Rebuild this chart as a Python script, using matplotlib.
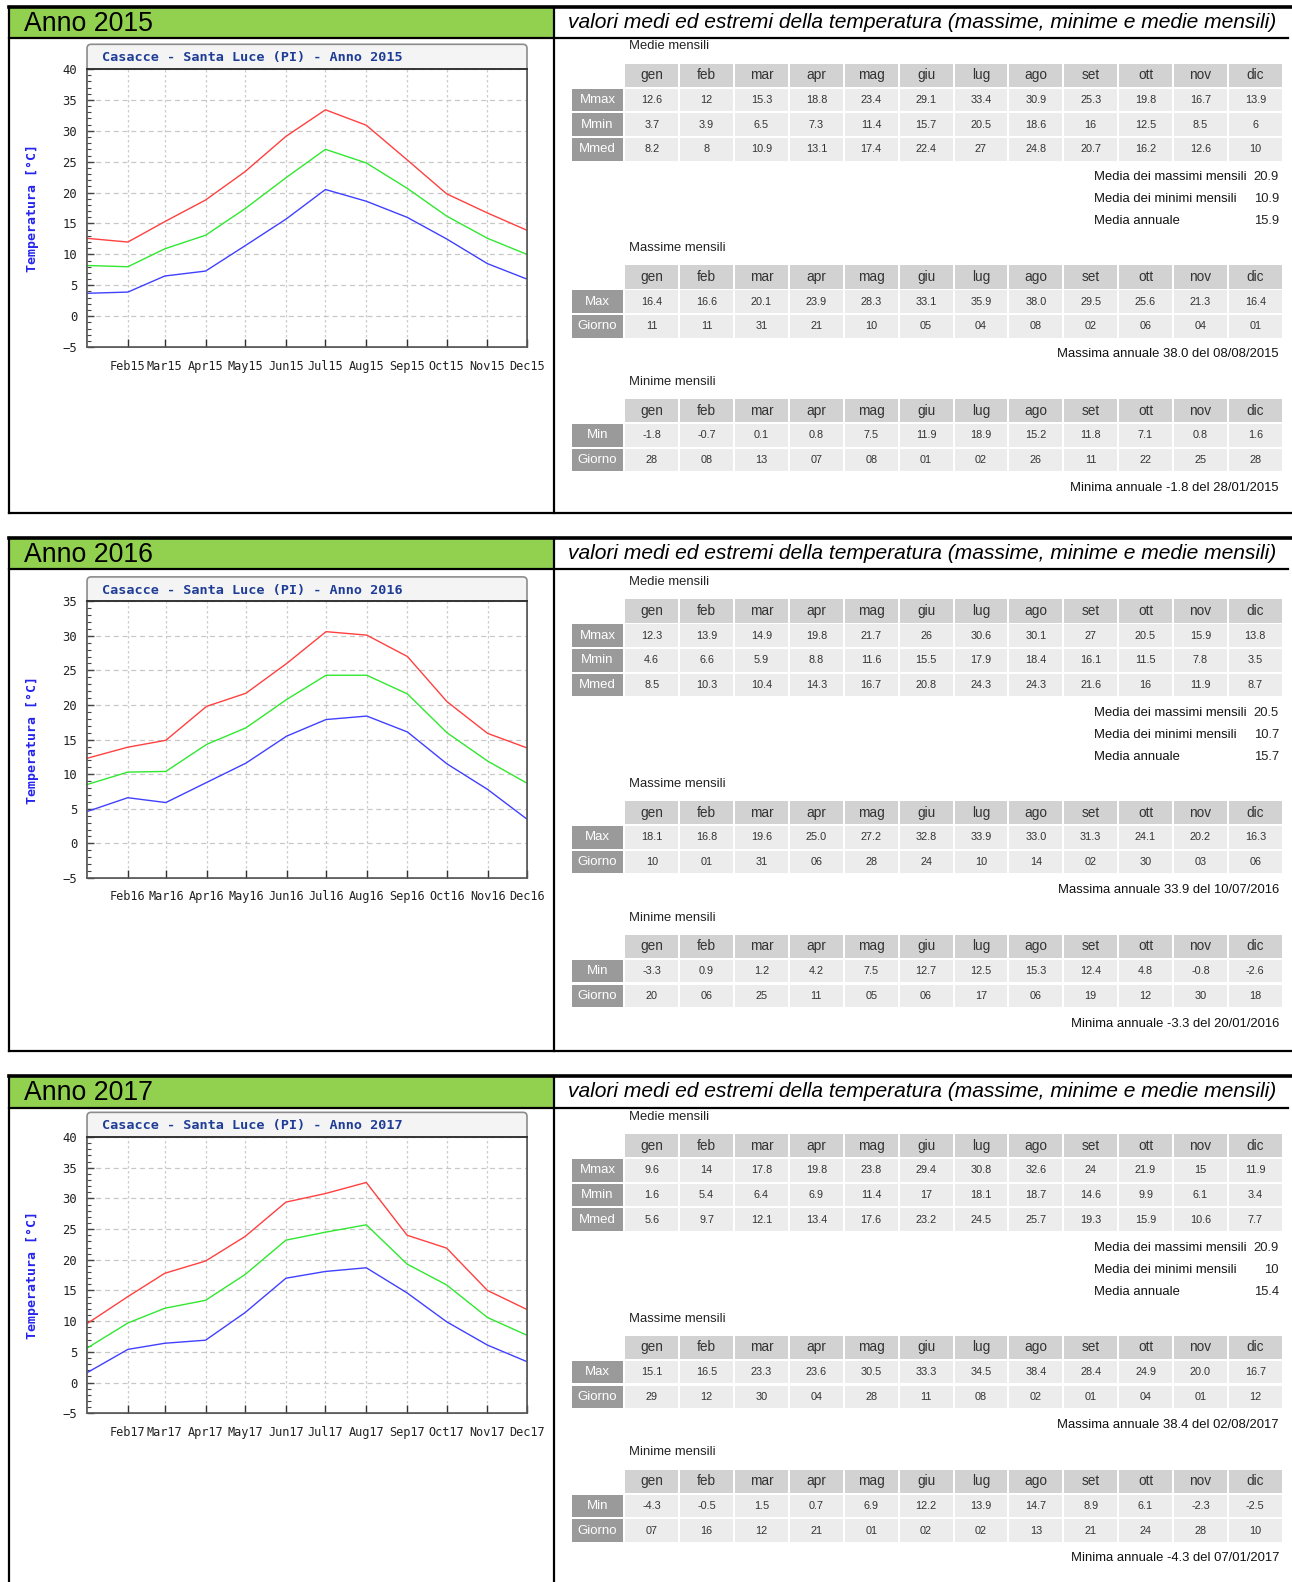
import matplotlib.pyplot as plt
import numpy as np
from matplotlib.patches import Rectangle, FancyBboxPatch
from matplotlib.ticker import MultipleLocator

plt.rcParams['font.family'] = ['Liberation Sans', 'DejaVu Sans']

anni = [2015, 2016, 2017]
mesi = ['gen', 'feb', 'mar', 'apr', 'mag', 'giu', 'lug', 'ago', 'set', 'ott', 'nov', 'dic']
mesi_grafico = ['Feb', 'Mar', 'Apr', 'May', 'Jun', 'Jul', 'Aug', 'Sep', 'Oct', 'Nov', 'Dec']

# 2015
mmax_2015 = [12.6, 12, 15.3, 18.8, 23.4, 29.1, 33.4, 30.9, 25.3, 19.8, 16.7, 13.9]
mmin_2015 = [3.7, 3.9, 6.5, 7.3, 11.4, 15.7, 20.5, 18.6, 16, 12.5, 8.5, 6]
mmed_2015 = [8.2, 8, 10.9, 13.1, 17.4, 22.4, 27, 24.8, 20.7, 16.2, 12.6, 10]
max_2015 = [16.4, 16.6, 20.1, 23.9, 28.3, 33.1, 35.9, 38.0, 29.5, 25.6, 21.3, 16.4]
giorno_max_2015 = [11, 11, 31, 21, 10, 5, 4, 8, 2, 6, 4, 1]
min_2015 = [-1.8, -0.7, 0.1, 0.8, 7.5, 11.9, 18.9, 15.2, 11.8, 7.1, 0.8, 1.6]
giorno_min_2015 = [28, 8, 13, 7, 8, 1, 2, 26, 11, 22, 25, 28]
riassunto_2015 = [20.9, 10.9, 15.9]
massima_2015 = (38.0, '08/08/2015')
minima_2015 = (-1.8, '28/01/2015')

# 2016
mmax_2016 = [12.3, 13.9, 14.9, 19.8, 21.7, 26, 30.6, 30.1, 27, 20.5, 15.9, 13.8]
mmin_2016 = [4.6, 6.6, 5.9, 8.8, 11.6, 15.5, 17.9, 18.4, 16.1, 11.5, 7.8, 3.5]
mmed_2016 = [8.5, 10.3, 10.4, 14.3, 16.7, 20.8, 24.3, 24.3, 21.6, 16, 11.9, 8.7]
max_2016 = [18.1, 16.8, 19.6, 25.0, 27.2, 32.8, 33.9, 33.0, 31.3, 24.1, 20.2, 16.3]
giorno_max_2016 = [10, 1, 31, 6, 28, 24, 10, 14, 2, 30, 3, 6]
min_2016 = [-3.3, 0.9, 1.2, 4.2, 7.5, 12.7, 12.5, 15.3, 12.4, 4.8, -0.8, -2.6]
giorno_min_2016 = [20, 6, 25, 11, 5, 6, 17, 6, 19, 12, 30, 18]
riassunto_2016 = [20.5, 10.7, 15.7]
massima_2016 = (33.9, '10/07/2016')
minima_2016 = (-3.3, '20/01/2016')

# 2017
mmax_2017 = [9.6, 14, 17.8, 19.8, 23.8, 29.4, 30.8, 32.6, 24, 21.9, 15, 11.9]
mmin_2017 = [1.6, 5.4, 6.4, 6.9, 11.4, 17, 18.1, 18.7, 14.6, 9.9, 6.1, 3.4]
mmed_2017 = [5.6, 9.7, 12.1, 13.4, 17.6, 23.2, 24.5, 25.7, 19.3, 15.9, 10.6, 7.7]
max_2017 = [15.1, 16.5, 23.3, 23.6, 30.5, 33.3, 34.5, 38.4, 28.4, 24.9, 20.0, 16.7]
giorno_max_2017 = [29, 12, 30, 4, 28, 11, 8, 2, 1, 4, 1, 12]
min_2017 = [-4.3, -0.5, 1.5, 0.7, 6.9, 12.2, 13.9, 14.7, 8.9, 6.1, -2.3, -2.5]
giorno_min_2017 = [7, 16, 12, 21, 1, 2, 2, 13, 21, 24, 28, 10]
riassunto_2017 = [20.9, 10, 15.4]
massima_2017 = (38.4, '02/08/2017')
minima_2017 = (-4.3, '07/01/2017')

y_alto = [40, 35, 40]

dati = {
    2015: (mmax_2015, mmin_2015, mmed_2015, max_2015, giorno_max_2015, min_2015,
           giorno_min_2015, riassunto_2015, massima_2015, minima_2015),
    2016: (mmax_2016, mmin_2016, mmed_2016, max_2016, giorno_max_2016, min_2016,
           giorno_min_2016, riassunto_2016, massima_2016, minima_2016),
    2017: (mmax_2017, mmin_2017, mmed_2017, max_2017, giorno_max_2017, min_2017,
           giorno_min_2017, riassunto_2017, massima_2017, minima_2017),
}

# layout in coordinate "pagina" (1281 x 1568)
W, H = 1281.0, 1568.0
panel_top = [6.6, 533.7, 1066.5]
header_bottom = [38, 564, 1098]
panel_bottom = [508, 1042, 1600]
chart_title_top = [43.9, 571.8, 1102.5]
plot_top = [68.4, 595.9, 1127]
plot_bottom = [344, 870.2, 1400.7]
label_y = [46, 577, 1107]
plot_x0, plot_x1 = 86.3, 522.5
divider_x = 549

c_head = '#d2d2d2'
c_cell = '#ececec'
c_lab = '#9a9a9a'
col_x0 = 619.0
col_w = 54.4

fig = plt.figure(figsize=(12.92, 15.82), dpi=100)
page = fig.add_axes([0, 0, 1, 1], zorder=0)
page.set_xlim(0, W)
page.set_ylim(H, 0)
page.axis('off')


def tabella(y_label, titolo, etichette, righe):
    page.text(624, y_label, titolo, fontsize=9.4, color='#222', va='center', ha='left')
    yh = y_label + 28.5
    for i, m in enumerate(mesi):
        x = col_x0 + i * col_w
        page.add_patch(Rectangle((x + 1, yh - 11.5), col_w - 2, 23, fc=c_head, ec='none'))
        page.text(x + col_w / 2, yh, m, fontsize=9.8, color='#333',
                  ha='center', va='center')
    for r, (lab, vals) in enumerate(zip(etichette, righe)):
        yr = y_label + 53 + r * 24.5
        page.add_patch(Rectangle((567, yr - 11.2), 51, 22.4, fc=c_lab, ec='none'))
        page.text(592.5, yr, lab, fontsize=9.5, color='white',
                  ha='center', va='center')
        for i, v in enumerate(vals):
            x = col_x0 + i * col_w
            page.add_patch(Rectangle((x + 1, yr - 11.2), col_w - 2, 22.4, fc=c_cell, ec='none'))
            page.text(x + col_w / 2, yr, v, fontsize=7.8, color='#333',
                      ha='center', va='center')


for k, anno in enumerate(anni):
    (mmax, mmin, mmed, vmax, gmax, vmin, gmin, riass, massima, minima) = dati[anno]
    top, hb, bot = panel_top[k], header_bottom[k], panel_bottom[k]

    # cornice del pannello
    page.add_patch(Rectangle((9, top), divider_x - 9, hb - top, fc='#92d050', ec='none'))
    page.plot([9, W], [top, top], color='black', lw=2.6)
    page.plot([9, 1277], [hb, hb], color='black', lw=1.6)
    page.plot([9, 9], [top, bot], color='black', lw=1.6)
    page.plot([divider_x, divider_x], [top, bot], color='black', lw=1.6)
    page.plot([9, W], [bot, bot], color='black', lw=1.6)
    page.text(24, (top + hb) / 2 + 1, 'Anno %d' % anno, fontsize=19.2, color='black',
              ha='left', va='center')
    page.text(563, (top + hb) / 2, 'valori medi ed estremi della temperatura '
              '(massime, minime e medie mensili)', fontsize=15.1, style='italic',
              color='black', ha='left', va='center')

    # grafico
    ct, pt, pb = chart_title_top[k], plot_top[k], plot_bottom[k]
    page.add_patch(FancyBboxPatch((plot_x0, ct), plot_x1 - plot_x0, pb - ct,
                                  boxstyle='round,pad=0,rounding_size=4',
                                  fc='#f4f4f4', ec='#8c8c8c', lw=1.2))
    page.text(101, (ct + pt) / 2 + 1, 'Casacce - Santa Luce (PI) - Anno %d' % anno,
              family='DejaVu Sans Mono', weight='bold', fontsize=9.7, color='#1f3d96',
              ha='left', va='center')

    ax = fig.add_axes([plot_x0 / W, 1 - pb / H, (plot_x1 - plot_x0) / W, (pb - pt) / H],
                      zorder=2)
    inizio = np.datetime64('%d-01-01' % anno)
    giorni = np.array([(np.datetime64('%d-%02d-01' % (anno, m)) - inizio).astype(int)
                       for m in range(1, 13)])
    ax.plot(giorni, mmax, color='#ff4040', lw=1.0)
    ax.plot(giorni, mmed, color='#30e830', lw=1.0)
    ax.plot(giorni, mmin, color='#4040ff', lw=1.0)
    ax.set_xlim(giorni[0], giorni[-1])
    ax.set_ylim(-5, y_alto[k])
    ax.set_xticks(giorni[1:])
    ax.set_xticklabels([m + str(anno)[2:] for m in mesi_grafico])
    ax.yaxis.set_major_locator(MultipleLocator(5))
    ax.yaxis.set_minor_locator(MultipleLocator(1))
    ax.grid(axis='y', color='#c8c8c8', ls=(0, (4, 3)), lw=0.9)
    ax.grid(axis='x', color='#cccccc', ls=(0, (2, 2)), lw=0.9)
    ax.tick_params(axis='x', direction='in', length=6, width=1, color='#333',
                   pad=9, labelsize=8.6, labelcolor='#222', labelfontfamily='DejaVu Sans Mono')
    ax.tick_params(axis='y', which='major', direction='in', length=5, width=1, color='#444',
                   pad=7, labelsize=8.8, labelcolor='#222', labelfontfamily='DejaVu Sans Mono')
    ax.tick_params(axis='y', which='minor', direction='in', length=3, width=0.8, color='#444')
    for s in ax.spines.values():
        s.set_color('#555555')
        s.set_linewidth(1.2)
    ax.spines['top'].set_color('#333333')
    ax.spines['top'].set_linewidth(1.4)
    ax.set_ylabel('Temperatura [°C]', family='DejaVu Sans Mono', weight='bold',
                  fontsize=9.5, color='#2424ee')
    ax.yaxis.set_label_coords((39 - plot_x0) / (plot_x1 - plot_x0), 0.5)

    # tabelle
    y0 = label_y[k]
    tabella(y0, 'Medie mensili', ['Mmax', 'Mmin', 'Mmed'],
            [['%g' % v for v in mmax], ['%g' % v for v in mmin], ['%g' % v for v in mmed]])
    riass_lab = ['Media dei massimi mensili', 'Media dei minimi mensili', 'Media annuale']
    for j, (lab, v) in enumerate(zip(riass_lab, riass)):
        yy = y0 + 129.5 + j * 22
        page.text(1085, yy, lab, fontsize=9.4, color='#111', ha='left', va='center')
        page.text(1268, yy, '%g' % v, fontsize=9.4, color='#222', ha='right', va='center')
    tabella(y0 + 200, 'Massime mensili', ['Max', 'Giorno'],
            [['%.1f' % v for v in vmax], ['%02d' % g for g in gmax]])
    page.text(1268, y0 + 305, 'Massima annuale %.1f del %s' % massima,
              fontsize=9.4, color='#111', ha='right', va='center')
    tabella(y0 + 332.5, 'Minime mensili', ['Min', 'Giorno'],
            [['%.1f' % v for v in vmin], ['%02d' % g for g in gmin]])
    page.text(1268, y0 + 437.5, 'Minima annuale %.1f del %s' % minima,
              fontsize=9.4, color='#111', ha='right', va='center')

fig.savefig('out.png', dpi=100)
